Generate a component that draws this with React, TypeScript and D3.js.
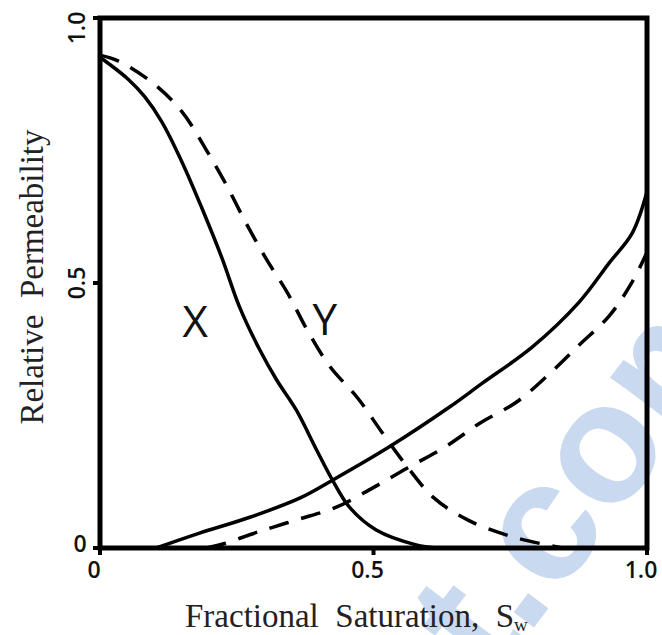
import React from "react";
import * as d3 from "d3";

// ---- data ----
const oilXSw = [0, 0.051, 0.082, 0.113, 0.150, 0.186, 0.223, 0.255, 0.292, 0.323, 0.359, 0.396, 0.425, 0.456, 0.505, 0.578, 0.617];
const oilXKr = [0.926, 0.885, 0.851, 0.804, 0.728, 0.642, 0.547, 0.455, 0.374, 0.317, 0.260, 0.185, 0.128, 0.077, 0.034, 0.006, 0];

const oilYSw = [0, 0.033, 0.097, 0.150, 0.192, 0.230, 0.266, 0.303, 0.343, 0.380, 0.420, 0.471, 0.515, 0.562, 0.611, 0.672, 0.748, 0.816, 0.845];
const oilYKr = [0.930, 0.919, 0.877, 0.823, 0.755, 0.687, 0.615, 0.547, 0.481, 0.409, 0.343, 0.283, 0.219, 0.153, 0.094, 0.053, 0.023, 0.006, 0];

const waterXSw = [0.103, 0.182, 0.274, 0.365, 0.425, 0.529, 0.639, 0.699, 0.790, 0.876, 0.931, 0.973, 1.0];
const waterXKr = [0, 0.028, 0.058, 0.094, 0.128, 0.191, 0.266, 0.311, 0.379, 0.464, 0.538, 0.594, 0.672];

const waterYSw = [0.195, 0.226, 0.288, 0.359, 0.432, 0.498, 0.562, 0.633, 0.695, 0.761, 0.821, 0.876, 0.931, 0.973, 1.0];
const waterYKr = [0, 0.008, 0.030, 0.053, 0.077, 0.113, 0.151, 0.192, 0.236, 0.275, 0.328, 0.383, 0.438, 0.502, 0.558];

const curveLabels = ["X", "Y"];
const curveLabelSw = [0.174, 0.411];
const curveLabelKr = [0.398, 0.402];

const xTicks = [0, 0.5, 1.0];
const xTickLabels = ["0", "0.5", "1.0"];
const yTicks = [0, 0.5, 1.0];
const yTickLabels = ["0", "0.5", "1.0"];

const xTitle = ["Fractional", "Saturation,", "S"];
const xTitleSub = "w";
const yTitle = "Relative  Permeability";
const watermark = "t.com";

const W = 662;
const H = 635;

export default function App() {
  const x = d3.scaleLinear().domain([0, 1]).range([100, 647]);
  const y = d3.scaleLinear().domain([0, 1]).range([548, 18]);

  const line = d3
    .line<[number, number]>()
    .x((d) => x(d[0]))
    .y((d) => y(d[1]))
    .curve(d3.curveCatmullRom.alpha(0.5));

  const zip = (a: number[], b: number[]) => a.map((v, i) => [v, b[i]] as [number, number]);

  const series = [
    { sw: oilXSw, kr: oilXKr, dash: null },
    { sw: oilYSw, kr: oilYKr, dash: "20 13" },
    { sw: waterXSw, kr: waterXKr, dash: null },
    { sw: waterYSw, kr: waterYKr, dash: "20 13" },
  ];

  const serif = "'Liberation Serif', 'Times New Roman', serif";
  const sans = "'Open Sans', 'Noto Sans', sans-serif";

  return (
    <svg
      width={W}
      height={H}
      style={{ position: "absolute", left: 0, top: 0, background: "#fff" }}
    >
      <rect x={0} y={0} width={W} height={H} fill="#fff" />
      {/* watermark */}
      <text
        transform="translate(493,682) rotate(-53)"
        fontFamily="'Liberation Sans', Arial, sans-serif"
        fontWeight="bold"
        fontSize={170}
        fill="#c9d9f0"
      >
        {watermark}
      </text>

      {/* curves */}
      {series.map((s, i) => (
        <path
          key={i}
          d={line(zip(s.sw, s.kr)) || ""}
          fill="none"
          stroke="#000"
          strokeWidth={3.5}
          strokeDasharray={s.dash || undefined}
          strokeLinecap="butt"
          strokeLinejoin="round"
        />
      ))}

      {/* frame */}
      <rect
        x={x(0)}
        y={y(1)}
        width={x(1) - x(0)}
        height={y(0) - y(1)}
        fill="none"
        stroke="#000"
        strokeWidth={5}
      />

      {/* x ticks */}
      {xTicks.map((t, i) => (
        <g key={"xt" + i}>
          <line x1={x(t)} x2={x(t)} y1={y(0)} y2={y(0) + 7} stroke="#000" strokeWidth={4} />
          <text
            x={x(t) - 6}
            y={578}
            textAnchor="middle"
            fontFamily={sans}
            fontWeight={600}
            fontSize={23}
            fill="#111"
          >
            {xTickLabels[i]}
          </text>
        </g>
      ))}

      {/* y ticks */}
      {yTicks.map((t, i) => (
        <g key={"yt" + i}>
          <line x1={x(0) - 7} x2={x(0)} y1={y(t)} y2={y(t)} stroke="#000" strokeWidth={4} />
          {t === 0 ? (
            <text
              x={80}
              y={y(t) + 4}
              textAnchor="middle"
              fontFamily={sans}
              fontWeight={600}
              fontSize={23}
              fill="#111"
            >
              {yTickLabels[i]}
            </text>
          ) : (
            <text
              transform={`translate(${85},${Math.max(y(t), 28)}) rotate(-90)`}
              textAnchor="middle"
              fontFamily={sans}
              fontWeight={600}
              fontSize={23}
              fill="#111"
            >
              {yTickLabels[i]}
            </text>
          )}
        </g>
      ))}

      {/* curve labels */}
      {curveLabels.map((l, i) => (
        <text
          key={l}
          x={x(curveLabelSw[i])}
          y={y(curveLabelKr[i])}
          textAnchor="middle"
          fontFamily={sans}
          fontSize={44}
          fill="#111"
        >
          {l}
        </text>
      ))}

      {/* x title */}
      <text
        x={185}
        y={627}
        fontFamily={serif}
        fontSize={33}
        fill="#222"
        style={{ whiteSpace: "pre" }}
      >
        <tspan>{xTitle.join("  ")}</tspan>
        <tspan fontSize={19} dy={4}>{xTitleSub}</tspan>
      </text>

      {/* y title */}
      <text
        transform={`translate(43,277) rotate(-90)`}
        textAnchor="middle"
        fontFamily={serif}
        fontSize={33}
        fill="#222"
        style={{ whiteSpace: "pre" }}
      >
        {yTitle}
      </text>
    </svg>
  );
}
